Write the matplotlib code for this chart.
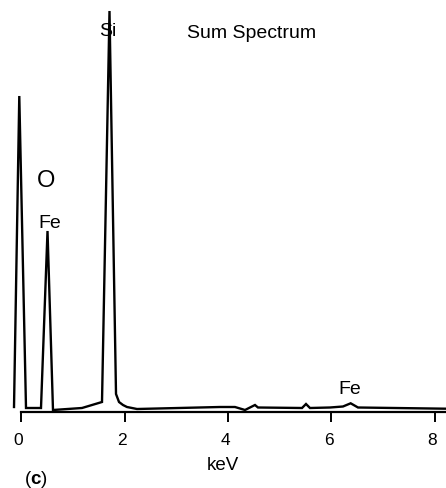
import numpy as np
import matplotlib
matplotlib.use('Agg')
import matplotlib.pyplot as plt
import matplotlib.transforms as mtransforms

plt.rcParams['font.family'] = ['Liberation Sans', 'DejaVu Sans']
plt.rcParams['mathtext.fontset'] = 'custom'
plt.rcParams['mathtext.rm'] = 'Liberation Sans'
plt.rcParams['mathtext.bf'] = 'Liberation Sans:bold'

# EDS sum spectrum (keV, counts in arbitrary units)
energy = [-0.141, -0.039, 0.091, 0.381, 0.507, 0.613, 1.174, 1.561, 1.706,
          1.832, 1.89, 1.967, 2.044, 2.238, 3.843, 4.133, 4.327, 4.52, 4.578,
          5.43, 5.507, 5.584, 5.971, 6.222, 6.371, 6.513, 8.215]
counts = [5, 316, 4, 4, 181, 2, 4, 10, 401,
          18, 10, 7, 5, 3, 5, 5, 2, 7, 4.5,
          4, 8, 4, 4.5, 5.5, 8.7, 4.5, 3.3]

ticks = [0, 2, 4, 6, 8]

# peak labels: (text, keV, counts, fontsize)
peak_labels = [('Si', 1.667, 382, 14),
               ('O', 0.487, 232, 17),
               ('Fe', 0.555, 189, 14),
               ('Fe', 6.348, 23, 14)]

fig = plt.figure(figsize=(4.46, 4.89), dpi=100)
ax = fig.add_axes([0, 76 / 489, 1, 413 / 489])

ax.plot(energy, counts, color='black', lw=1.7, solid_joinstyle='miter',
        clip_on=False)

ax.set_xlim(-0.412, 8.215)
ax.set_ylim(0, 413)

for s in ['top', 'right', 'left']:
    ax.spines[s].set_visible(False)
ax.spines['bottom'].set_linewidth(1.6)
ax.spines['bottom'].set_bounds(0, 8.215)
ax.set_yticks([])
ax.set_xticks(ticks)
ax.set_xticklabels([str(t) for t in ticks])
ax.tick_params(axis='x', direction='out', length=7.2, width=1.4,
               pad=7, labelsize=12.5)
shift = mtransforms.ScaledTranslation(-0.03, 0, fig.dpi_scale_trans)
for lab in ax.get_xticklabels():
    lab.set_transform(lab.get_transform() + shift)

ax.set_xlabel('keV', fontsize=13.5, labelpad=7)

for txt, x, y, fs in peak_labels:
    ax.text(x, y, txt, ha='center', va='center', fontsize=fs)

ax.text(3.205, 379, 'Sum Spectrum', ha='left', va='center', fontsize=14)

fig.text(36 / 446, 1 - 480 / 489, r'($\mathbf{c}$)', ha='center',
         va='center', fontsize=13.5)

fig.savefig('out.png', dpi=100)
